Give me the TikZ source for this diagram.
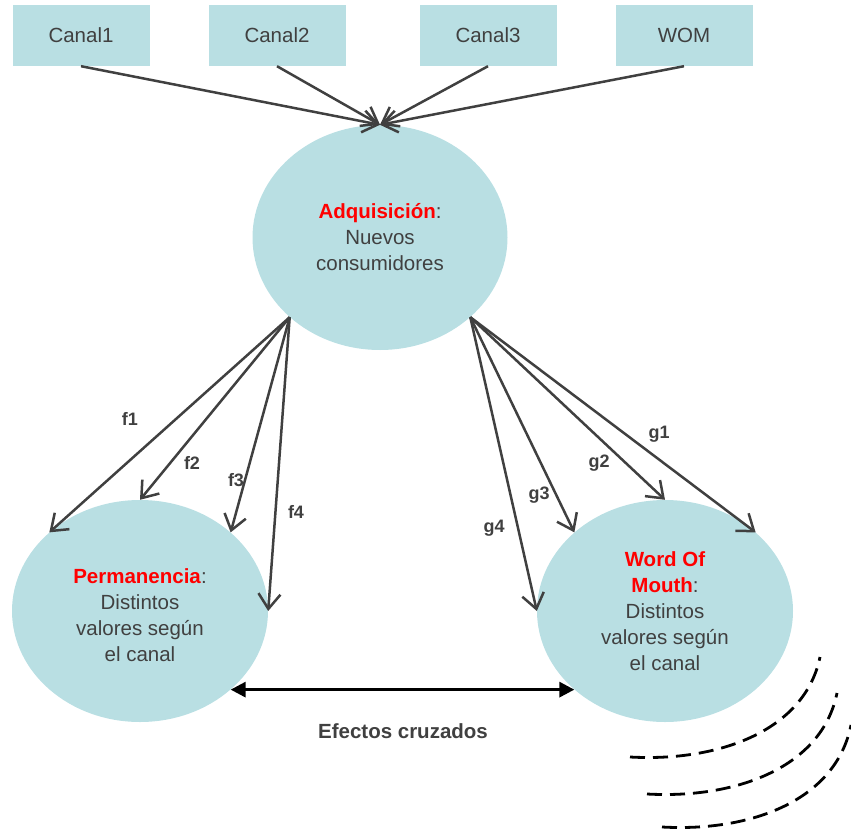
\documentclass[tikz,border=0pt]{standalone}
\usepackage{fontspec}
\setmainfont{Liberation Sans}
\usetikzlibrary{arrows.meta,shapes.geometric}
\definecolor{tealfill}{HTML}{B9DFE3}
\definecolor{txtgray}{HTML}{404040}
\definecolor{redtxt}{HTML}{FF0000}
\begin{document}
\begin{tikzpicture}[x=1pt,y=-1pt,
  box/.style={rectangle, fill=tealfill, minimum width=137pt, minimum height=61pt, inner sep=0pt, text=txtgray, font=\fontsize{20.5}{26}\selectfont},
  blob/.style={ellipse, fill=tealfill, inner sep=0pt, text=txtgray, align=center, font=\fontsize{20.5}{26}\selectfont},
  conn/.style={draw=txtgray, line width=2.5pt, -{Straight Barb[length=15pt,width=22pt,line width=2.5pt]}},
  lbl/.style={text=txtgray, font=\fontsize{18}{20}\selectfont\bfseries},
  cross/.style={draw=black, line width=3pt, {Triangle[length=15pt,width=15pt]}-{Triangle[length=15pt,width=15pt]}},
  wave/.style={draw=black, line width=2.8pt, dash pattern=on 15pt off 8pt}
]
\useasboundingbox (0,0) rectangle (851,832);

\node[box] (c1) at (81,35.5) {Canal1};
\node[box] (c2) at (277,35.5) {Canal2};
\node[box] (c3) at (488,35.5) {Canal3};
\node[box] (wom) at (684,35.5) {WOM};

\node[blob, minimum width=255pt, minimum height=225pt] (adq) at (380,237.5)
  {\textcolor{redtxt}{\textbf{Adquisición}}:\\Nuevos\\consumidores};
\node[blob, minimum width=256pt, minimum height=222pt] (perm) at (140,611)
  {\rule{0pt}{24pt}\textcolor{redtxt}{\textbf{Permanencia}}:\\Distintos\\valores según\\el canal};
\node[blob, minimum width=256pt, minimum height=222pt] (wm) at (665,611)
  {\textcolor{redtxt}{\textbf{Word Of}}\\\textcolor{redtxt}{\textbf{Mouth}}:\\Distintos\\valores según\\el canal};

\foreach \b in {c1,c2,c3,wom}
  \draw[conn] (\b.south) -- (adq.north);

\draw[conn] (adq.south west) -- (perm.north west);
\draw[conn] (adq.south west) -- (perm.north);
\draw[conn] (adq.south west) -- (perm.north east);
\draw[conn] (adq.south west) -- (perm.east);

\draw[conn] (adq.south east) -- (wm.north east);
\draw[conn] (adq.south east) -- (wm.north);
\draw[conn] (adq.south east) -- (wm.north west);
\draw[conn] (adq.south east) -- (wm.west);

\node[lbl] (f1) at (130,419) {f1};
\node[lbl] (f2) at (192,463) {f2};
\node[lbl] (f3) at (236,480) {f3};
\node[lbl] (f4) at (296,512) {f4};
\node[lbl] (g1) at (659,434) {g1};
\node[lbl] (g2) at (599,463) {g2};
\node[lbl] (g3) at (539,495) {g3};
\node[lbl] (g4) at (494,528) {g4};

\draw[cross] (perm.south east) -- (wm.south west);
\node[text=txtgray, font=\fontsize{20.5}{24}\selectfont\bfseries] (ef) at (403,731) {Efectos cruzados};

\draw[wave] (630,757) .. controls (720,762) and (805,730) .. (820,657);
\draw[wave] (647,794) .. controls (737,799) and (822,767) .. (837,693);
\draw[wave] (662,827) .. controls (752,832) and (836,800) .. (851,725);
\end{tikzpicture}
\end{document}
